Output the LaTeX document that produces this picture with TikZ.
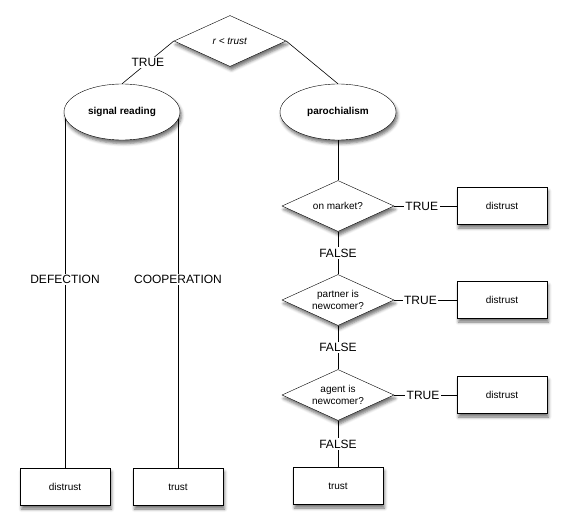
\documentclass[tikz,border=0pt]{standalone}
\usepackage{fontspec}
\setmainfont{Liberation Sans}
\usetikzlibrary{positioning,shapes.geometric,shadows.blur,backgrounds}

\begin{document}
\begin{tikzpicture}[
  x=1pt, y=-1pt, on grid,
  font=\fontsize{10}{12}\selectfont,
  dropped/.style={blur shadow={shadow xshift=1.5pt, shadow yshift=-3.5pt,
                  shadow blur radius=3pt, shadow opacity=55}},
  test/.style={draw, diamond, fill=white, dropped, aspect=2.2, inner sep=0pt,
               minimum width=112pt, minimum height=51pt, align=center},
  rule/.style={draw, ellipse, fill=white, dropped, minimum width=116pt,
               minimum height=56pt, font=\fontsize{10}{12}\selectfont\bfseries},
  leaf/.style={draw, fill=white, dropped, minimum width=90pt, minimum height=37pt},
  lbl/.style={fill=white, inner sep=1.5pt, font=\fontsize{12}{14}\selectfont},
  link/.style={line width=0.6pt}
]
\useasboundingbox (0,0) rectangle (567,525);

\node[test] (root) at (230,41) {\textit{r < trust}};
\node[rule, below left=71pt and 108pt of root] (signal) {signal reading};
\node[rule, below right=71pt and 108pt of root] (paro) {parochialism};

\node[test, below=94pt of paro] (market) {on market?};
\node[test, below=94pt of market] (partner) {partner is\\newcomer?};
\node[test, below=95pt of partner] (agent) {agent is\\newcomer?};

\node[leaf, right=164pt of market] (dmarket) {distrust};
\node[leaf, right=164pt of partner] (dpartner) {distrust};
\node[leaf, right=164pt of agent] (dagent) {distrust};
\node[leaf, below=91pt of agent] (tparo) {trust};

\node[leaf, below left=375pt and 57pt of signal] (ddef) {distrust};
\node[leaf, below right=375pt and 56pt of signal] (tcoop) {trust};

\draw[link] (root.west) -- node[lbl] {TRUE} (signal.north);
\draw[link] (root.east) -- (paro.north);
\draw[link] (paro) -- (market);
\draw[link] (market) -- node[lbl] {FALSE} (partner);
\draw[link] (partner) -- node[lbl] {FALSE} (agent);
\draw[link] (agent) -- node[lbl] {FALSE} (tparo);
\draw[link] (market) -- node[lbl, pos=0.44] {TRUE} (dmarket);
\draw[link] (partner) -- node[lbl, pos=0.42] {TRUE} (dpartner);
\draw[link] (agent) -- node[lbl, pos=0.46] {TRUE} (dagent);

\begin{scope}[on background layer]
\draw[link] (ddef.north) -- node[lbl, pos=0.53] {DEFECTION} (ddef.north |- signal.center);
\draw[link] (tcoop.north) -- node[lbl, pos=0.53] {COOPERATION} (tcoop.north |- signal.center);
\end{scope}
\end{tikzpicture}
\end{document}
